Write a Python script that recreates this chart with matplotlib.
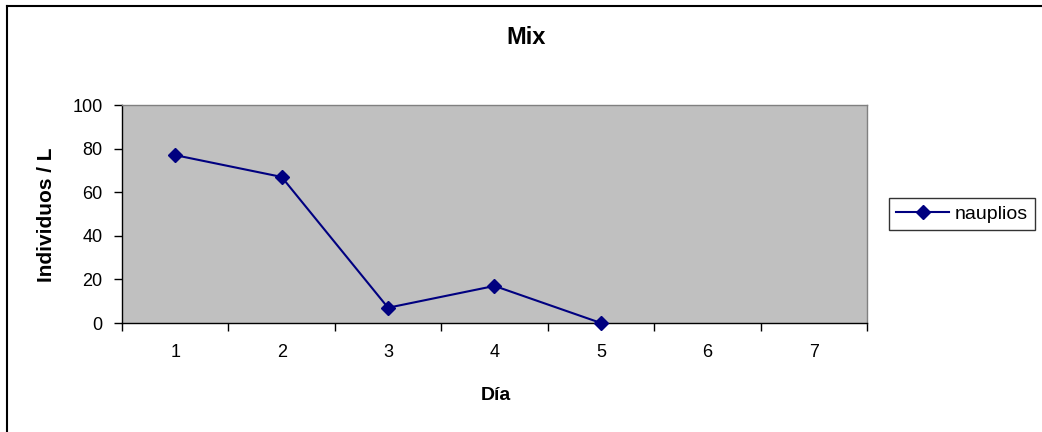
import matplotlib
matplotlib.use("Agg")
import matplotlib.pyplot as plt
from matplotlib.lines import Line2D

plt.rcParams['font.family'] = ['Liberation Sans', 'DejaVu Sans']

days = [1, 2, 3, 4, 5]
nauplios = [77, 67, 7, 17, 0]
categories = ["1", "2", "3", "4", "5", "6", "7"]

W, H = 1042, 432
fig = plt.figure(figsize=(W / 100, H / 100), dpi=100)
fig.patch.set_facecolor('white')

# outer chart border (top and left visible, rest cut off)
fig.add_artist(Line2D([7 / W, 7 / W], [0, 1 - 6 / H], transform=fig.transFigure,
                      color='black', lw=1.5))
fig.add_artist(Line2D([7 / W, 1], [1 - 6 / H, 1 - 6 / H], transform=fig.transFigure,
                      color='black', lw=1.5))

left, right, top, bottom = 122, 867, 105, 323
ax = fig.add_axes([left / W, 1 - bottom / H, (right - left) / W, (bottom - top) / H])
ax.set_facecolor('#C0C0C0')

line, = ax.plot(days, nauplios, color='#000080', lw=1.5, marker='D', markersize=7,
                markerfacecolor='#000080', markeredgecolor='#000080', clip_on=False,
                zorder=5)

ax.set_xlim(0.5, 7.5)
ax.set_ylim(0, 100)
ax.set_yticks([0, 20, 40, 60, 80, 100])
ax.set_xticks(range(1, 8))
ax.set_xticklabels(categories)
ax.set_xticks([i + 0.5 for i in range(0, 8)], minor=True)
ax.tick_params(axis='x', which='major', length=0, pad=15, labelsize=13)
ax.tick_params(axis='x', which='minor', length=6, width=1, color='black', direction='out')
ax.tick_params(axis='y', length=6, width=1, color='black', direction='out', labelsize=13, pad=8)

for s in ['left', 'bottom']:
    ax.spines[s].set_color('black')
    ax.spines[s].set_linewidth(1)
for s in ['top', 'right']:
    ax.spines[s].set_color('#808080')
    ax.spines[s].set_linewidth(1)

fig.text(496 / W, 1 - 395 / H, 'Día', ha='center', va='center',
         fontsize=14, fontweight='bold')
fig.text(47 / W, 1 - 215 / H, 'Individuos / L', ha='center', va='center',
         rotation=90, fontsize=15, fontweight='bold')
fig.text(526 / W, 1 - 37 / H, 'Mix', ha='center', va='center',
         fontsize=17, fontweight='bold')

leg = fig.legend([line], ['nauplios'], loc='center', bbox_to_anchor=(962 / W, 1 - 214 / H),
                 frameon=True, fancybox=False, edgecolor='black', fontsize=14,
                 handlelength=2.7, borderpad=0.35, handletextpad=0.3, borderaxespad=0)
leg.get_frame().set_linewidth(1)

fig.savefig('out.png', dpi=100)
